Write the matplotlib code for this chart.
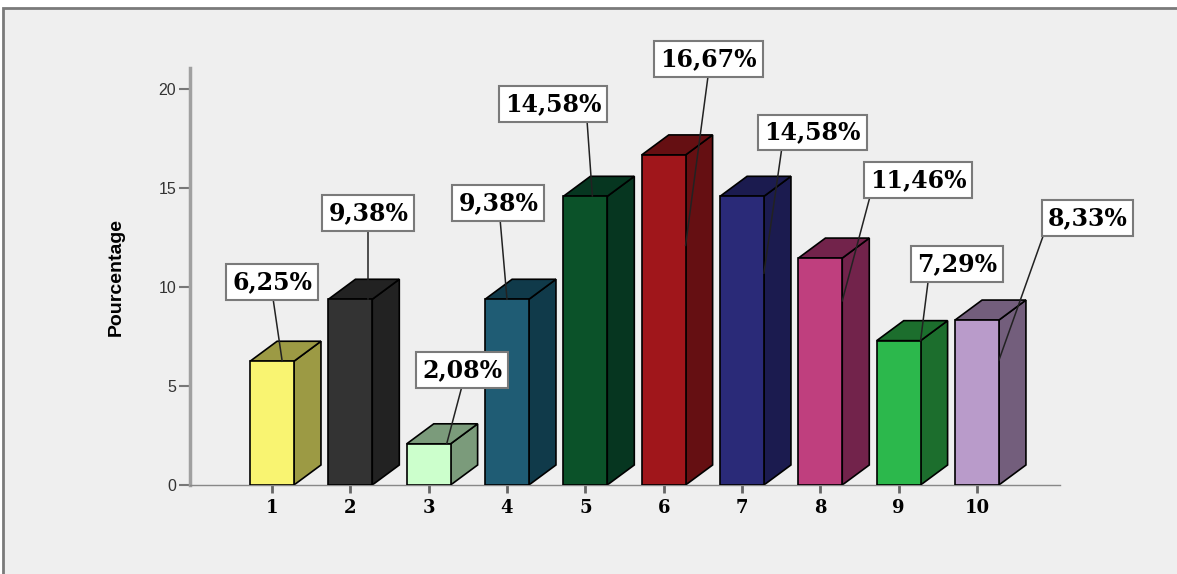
import matplotlib.pyplot as plt
from matplotlib.patches import Rectangle, Polygon

# categories and percentages
categories = ['1', '2', '3', '4', '5', '6', '7', '8', '9', '10']
values = [6.25, 9.38, 2.08, 9.38, 14.58, 16.67, 14.58, 11.46, 7.29, 8.33]
labels = ['6,25%', '9,38%', '2,08%', '9,38%', '14,58%', '16,67%', '14,58%', '11,46%', '7,29%', '8,33%']

# front face / shaded face colours
front_colors = ['#f9f471', '#333333', '#ccffcc', '#1f5c74', '#0b5229',
                '#a0161b', '#2a2a78', '#bf3f7e', '#2cb84c', '#b99bca']
side_colors = ['#9c9a44', '#222222', '#7b9b7b', '#103a4a', '#063620',
               '#650f12', '#1b1b4f', '#72234b', '#1c6e2d', '#735e7c']

# callout boxes: centre (x, y), x where the leader leaves the box bottom,
# and leader end (dx from bar centre, y)
box_pos = [(1.0, 10.25), (2.23, 13.74), (3.43, 5.81), (3.89, 14.24), (4.59, 19.24),
           (6.57, 21.5), (7.90, 17.8), (9.25, 15.4), (9.75, 11.16), (11.41, 13.5)]
leader_start = [1.01, 2.23, 3.43, 3.91, 5.02, 6.57, 7.51, 8.64, 9.38, 10.86]
leader_end = [(0.13, 6.25), (0.23, 9.38), (0.23, 2.08), (0.0, 9.38), (0.09, 14.6),
              (0.28, 12.1), (0.28, 10.7), (0.28, 9.3), (0.28, 7.29), (0.28, 6.3)]

bar_w = 0.56
depth_x = 0.345
depth_y = 1.01

fig = plt.figure(figsize=(11.77, 5.74), dpi=100)
fig.patch.set_facecolor('white')

# grey panel behind the chart
panel = Rectangle((3 / 1177, -0.05), 1.2, 1 - 8 / 574 + 0.05,
                  transform=fig.transFigure, facecolor='#efefef',
                  edgecolor='#7a7a7a', linewidth=2, zorder=-10)
fig.patches.append(panel)

ax = fig.add_axes([190 / 1177, 89 / 574, 870 / 1177, 417 / 574])
ax.set_facecolor('none')
ax.set_xlim(-0.047, 11.06)
ax.set_ylim(0, 21.06)

for i, v in enumerate(values):
    c = i + 1
    x0 = c - bar_w / 2
    x1 = c + bar_w / 2
    side = Polygon([(x1, 0), (x1 + depth_x, depth_y), (x1 + depth_x, v + depth_y), (x1, v)],
                   closed=True, facecolor=side_colors[i], edgecolor='black', lw=1.2, zorder=2)
    top = Polygon([(x0, v), (x1, v), (x1 + depth_x, v + depth_y), (x0 + depth_x, v + depth_y)],
                  closed=True, facecolor=side_colors[i], edgecolor='black', lw=1.2, zorder=2)
    front = Rectangle((x0, 0), bar_w, v, facecolor=front_colors[i],
                      edgecolor='black', lw=1.2, zorder=3)
    ax.add_patch(side)
    ax.add_patch(top)
    ax.add_patch(front)

    bx, by = box_pos[i]
    ex, ey = leader_end[i]
    ax.plot([leader_start[i], c + ex], [by - 0.75, ey], color='#222222', lw=1.1,
            zorder=4, clip_on=False)
    ax.text(bx, by, labels[i], ha='center', va='center', fontsize=17,
            fontfamily='DejaVu Serif', fontweight='bold', color='black', zorder=5,
            bbox=dict(boxstyle='square,pad=0.25', facecolor='white',
                      edgecolor='#7a7a7a', linewidth=1.5))

ax.set_xticks(range(1, 11))
ax.set_xticklabels(categories, fontfamily='DejaVu Serif', fontweight='bold', fontsize=13)
ax.set_yticks([0, 5, 10, 15, 20])
ax.set_yticklabels(['0', '5', '10', '15', '20'], fontfamily='Liberation Sans')
ax.tick_params(axis='y', length=8, width=1.5, color='#777777', labelsize=11.5,
               labelcolor='#333333', pad=2)
ax.tick_params(axis='x', length=6, width=2, color='#666666', pad=4)

for s in ['top', 'right']:
    ax.spines[s].set_visible(False)
ax.spines['left'].set_color('#a0a0a0')
ax.spines['left'].set_linewidth(2.5)
ax.spines['bottom'].set_color('#888888')
ax.spines['bottom'].set_linewidth(1)

ax.set_ylabel('Pourcentage', fontsize=14, fontweight='bold',
              fontfamily='Liberation Sans', labelpad=24)

fig.savefig('out.png', dpi=100, facecolor=fig.get_facecolor())
